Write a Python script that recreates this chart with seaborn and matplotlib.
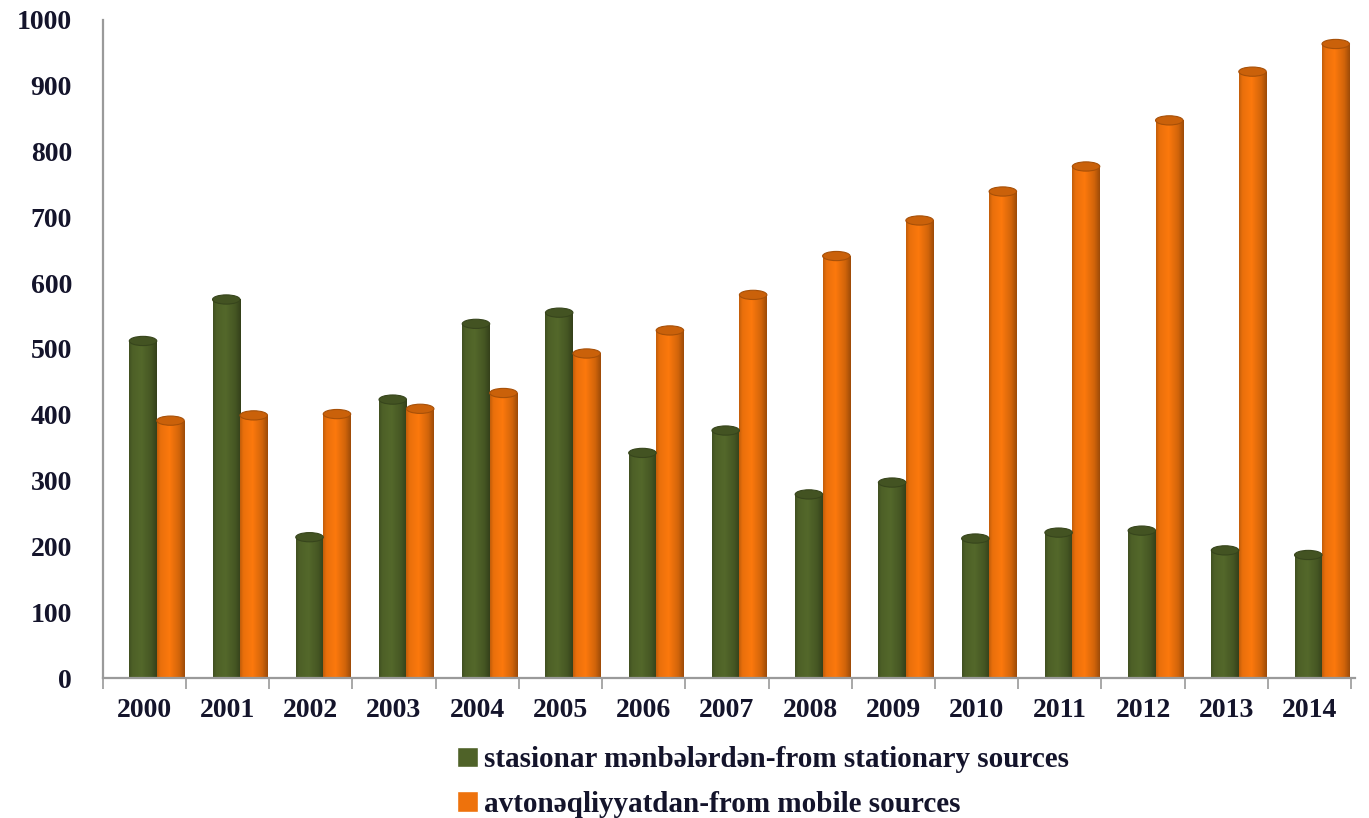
"""Emissions to the atmosphere, 2000-2014: stationary vs mobile sources."""
import matplotlib
matplotlib.use("Agg")
import matplotlib.pyplot as plt
import numpy as np
import pandas as pd
import seaborn as sns
from matplotlib.colors import to_rgb
from matplotlib.patches import Ellipse, Patch

years = [str(y) for y in range(2000, 2015)]
stationary = [512, 575, 214, 423, 538, 555, 342, 376, 279, 297, 212, 221, 224, 194, 187]
mobile = [391, 399, 401, 409, 433, 493, 528, 582, 641, 695, 739, 777, 847, 921, 963]

lbl_stat = "stasionar mənbələrdən-from stationary sources"
lbl_mob = "avtonəqliyyatdan-from mobile sources"

GREEN = "#4F6228"
ORANGE = "#EE720C"
TXT = "#14142b"
AXC = "#9a9a9a"

df = pd.DataFrame({
    "year": years * 2,
    "value": stationary + mobile,
    "source": [lbl_stat] * len(years) + [lbl_mob] * len(years),
})

sns.set_theme(style="white")
plt.rcParams["font.family"] = ["Liberation Serif", "DejaVu Serif"]
plt.rcParams["font.weight"] = "bold"

fig = plt.figure(figsize=(13.69, 8.18), dpi=100)
ax = fig.add_axes([0.075, 0.171, 0.915, 0.805])

sns.barplot(data=df, x="year", y="value", hue="source",
            palette=[GREEN, ORANGE], width=0.66, gap=0.0,
            saturation=1, legend=False, ax=ax)

# cylinder look: horizontal shading clipped to each bar + top cap
t = np.linspace(0, 1, 64)
shade = np.interp(t, [0, 0.12, 0.45, 0.8, 1], [0.82, 0.98, 1.06, 0.88, 0.66])
cap_h = 14
for patch in list(ax.patches):
    x0, w, h = patch.get_x(), patch.get_width(), patch.get_height()
    if h <= 0:
        continue
    base = np.array(to_rgb(patch.get_facecolor()))
    grad = np.clip(base[None, :] * shade[:, None], 0, 1)[None, :, :]
    im = ax.imshow(grad, extent=(x0, x0 + w, 0, h), aspect="auto",
                   interpolation="bilinear", zorder=patch.get_zorder() + 0.1)
    im.set_clip_path(patch)
    ax.add_patch(Ellipse((x0 + w / 2, h), w, cap_h,
                         facecolor=np.clip(base * 0.85, 0, 1),
                         edgecolor=np.clip(base * 0.7, 0, 1), lw=0.8,
                         zorder=patch.get_zorder() + 0.2))

# 3D-style offset: labels sit slightly left of the columns
off = 0.15
ax.set_xlim(-0.5 - off, 14.4)
ax.set_ylim(0, 1000)
ax.set_yticks(range(0, 1001, 100))
ax.set_xticks(np.arange(len(years)) - off, years)
ax.set_xticks(np.arange(len(years) + 1) - 0.5 - off, minor=True)
ax.tick_params(axis="x", which="major", length=0, pad=14,
               labelsize=20, labelcolor=TXT)
ax.tick_params(axis="x", which="minor", bottom=True, length=8, width=1.2,
               color=AXC, direction="out")
ax.tick_params(axis="y", length=10, color=AXC, direction="out",
               labelsize=20, labelcolor=TXT, pad=12)
for lbl in ax.get_xticklabels() + ax.get_yticklabels():
    lbl.set_fontweight("bold")

ax.set_xlabel("")
ax.set_ylabel("")
sns.despine(ax=ax)
for side in ("left", "bottom"):
    ax.spines[side].set_color(AXC)
    ax.spines[side].set_linewidth(1.6)

handles = [Patch(facecolor=GREEN, label=lbl_stat),
           Patch(facecolor=ORANGE, label=lbl_mob)]
fig.legend(handles=handles, loc="upper left", bbox_to_anchor=(0.315, 0.12),
           frameon=False, ncol=1, handlelength=0.7, handleheight=0.7,
           handletextpad=0.2, labelspacing=0.6,
           prop={"size": 21, "weight": "bold"}, labelcolor=TXT)

fig.savefig("out.png", dpi=100)
